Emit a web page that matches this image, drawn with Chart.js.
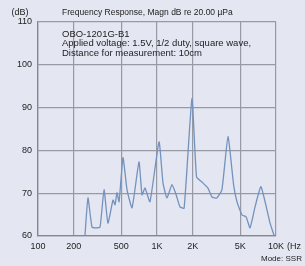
<!DOCTYPE html>
<html lang="en">
<head>
<meta charset="UTF-8">
<title>Frequency Response</title>
<script src="https://cdn.jsdelivr.net/npm/chart.js"></script>
<style>
  html, body { margin: 0; padding: 0; background: #e4e7f2; }
  #wrap { width: 305px; height: 266px; position: relative; }
</style>
</head>
<body>
<div id="wrap"><canvas id="freqChart"></canvas></div>
<script>
// frequency (Hz) and level (dB)
const freqs = [248, 263, 284, 305, 332, 359, 387, 427, 444, 461, 480, 518, 560, 617, 706, 748, 793, 873,
               1040, 1123, 1213, 1337, 1450, 1560, 1690, 1967, 2150, 2388, 2680, 2898, 3180, 3510, 3951,
               4400, 4700, 5180, 5600, 6050, 6667, 7480, 8910, 9620];
const levels = [60.0, 68.9, 62.1, 61.9, 62.1, 70.8, 63.0, 68.4, 67.3, 70.1, 68.0, 78.3, 70.8, 66.6, 77.3, 69.6, 71.2, 68.0,
                82.0, 72.4, 68.9, 72.0, 69.6, 66.8, 66.5, 92.1, 73.8, 72.6, 71.2, 69.1, 68.9, 70.8, 83.2,
                72.0, 68.0, 64.9, 64.5, 61.9, 66.8, 71.5, 63.0, 60.2];
const xTicks = [100, 200, 500, 1000, 2000, 5000, 10000];
const xTickLabels = ['100', '200', '500', '1K', '2K', '5K', '10K'];
const yTicks = [60, 70, 80, 90, 100, 110];

const titleText = 'Frequency Response, Magn dB re 20.00 \u00b5Pa';
const noteLines = ['OBO-1201G-B1', 'Applied voltage: 1.5V, 1/2 duty, square wave,', 'Distance for measurement: 10cm'];

const FONT = 'Liberation Sans, Arial, sans-serif';

const textPlugin = {
    id: 'extraText',
    afterDraw(chart) {
        const ctx = chart.ctx;
        const a = chart.chartArea;
        ctx.save();
        ctx.fillStyle = '#222';
        ctx.textBaseline = 'middle';
        ctx.font = '9px ' + FONT;
        ctx.textAlign = 'center';
        ctx.fillText('(dB)', 20, 13);
        ctx.textAlign = 'left';
        ctx.font = '8.5px ' + FONT;
        ctx.fillText(titleText, 62, 13);
        ctx.font = '9.5px ' + FONT;
        noteLines.forEach((t, i) => ctx.fillText(t, a.left + 24, a.top + 12 + i * 9.8));
        ctx.font = '9px ' + FONT;
        ctx.fillText('(Hz', a.right + 11, a.bottom + 11);
        ctx.font = '8px ' + FONT;
        ctx.fillText('Mode: SSR', 261, 259);
        ctx.restore();
    }
};

new Chart(document.getElementById('freqChart'), {
    type: 'line',
    data: {
        datasets: [{
            data: freqs.map((f, i) => ({ x: f, y: levels[i] })),
            borderColor: '#7392bd',
            borderWidth: 1.3,
            pointRadius: 0,
            tension: 0.15,
            fill: false
        }]
    },
    options: {
        responsive: true,
        maintainAspectRatio: false,
        animation: false,
        layout: { padding: { top: 22, right: 29, left: 0, bottom: 0 } },
        plugins: { legend: { display: false }, tooltip: { enabled: false } },
        scales: {
            x: {
                type: 'logarithmic',
                min: 100,
                max: 10000,
                afterBuildTicks: (axis) => { axis.ticks = xTicks.map(v => ({ value: v })); },
                afterFit: (axis) => { axis.height = 30; },
                ticks: {
                    autoSkip: false,
                    maxRotation: 0,
                    padding: 5,
                    color: '#222',
                    font: { family: FONT, size: 9 },
                    callback: (v) => xTickLabels[xTicks.indexOf(v)] ?? ''
                },
                grid: { color: '#979aa4', lineWidth: 1.2, drawTicks: false },
                border: { color: '#85878f', width: 1.3 }
            },
            y: {
                min: 60,
                max: 110,
                afterBuildTicks: (axis) => { axis.ticks = yTicks.map(v => ({ value: v })); },
                afterFit: (axis) => { axis.width = 38; },
                ticks: {
                    padding: 6,
                    color: '#222',
                    font: { family: FONT, size: 9 }
                },
                grid: { color: '#979aa4', lineWidth: 1.2, drawTicks: false },
                border: { color: '#85878f', width: 1.3 }
            }
        }
    },
    plugins: [textPlugin]
});
</script>
</body>
</html>
